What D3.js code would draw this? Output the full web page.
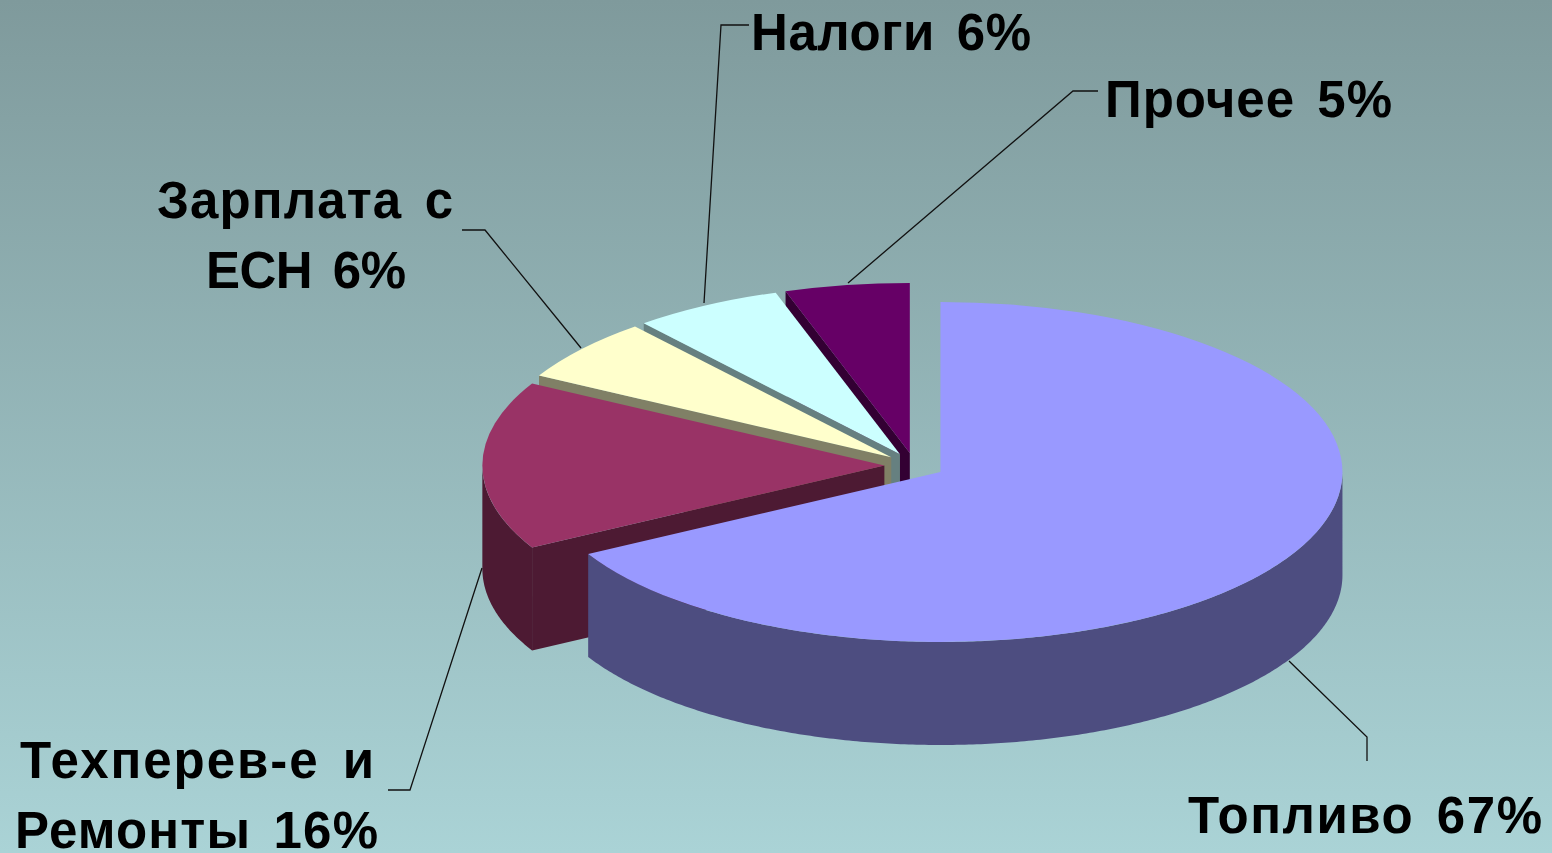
<!DOCTYPE html>
<html>
<head>
<meta charset="utf-8">
<script src="https://cdn.jsdelivr.net/npm/d3@7"></script>
<style>
html, body { margin: 0; padding: 0; overflow: hidden; }
</style>
</head>
<body>
<div id="my_dataviz"></div>
<script>
const categories = ['Топливо', 'Техперев-е и\nРемонты', 'Зарплата с\nЕСН', 'Налоги', 'Прочее'];
const shares = [67, 16, 6, 6, 5];
const topColors = ['#9999FF', '#993366', '#FFFFCC', '#CCFFFF', '#660066'];
const wallColors = ['#4D4D80', '#4D1A33', '#808066', '#668080', '#330033'];

const width = 1552;
const height = 853;
const cx = 914.5;
const cy = 465.5;
const rx = 402;
const ry = 170;
const depth = 103;
const explode = 0.075;

// label lines: left edge, right edge and baseline of each line, same order as categories
const labelBoxes = [
    [[1188, 1542, 833]],
    [[20, 374, 778], [15, 378, 848]],
    [[157, 453, 218], [206, 406, 288]],
    [[751, 1031, 50]],
    [[1105, 1392, 117]]
];
const leaderPoints = [
    [[1289, 661], [1367, 737], [1367, 761]],
    [[482, 568], [410, 790], [388, 790]],
    [[581, 348], [485, 230], [462, 230]],
    [[704, 303], [721, 25], [749, 25]],
    [[848, 283], [1073, 91], [1098, 91]]
];

const svg = d3.select('#my_dataviz')
    .append('svg')
        .attr('width', width)
        .attr('height', height)
        .style('display', 'block');

const bg = svg.append('defs').append('linearGradient')
    .attr('id', 'bg')
    .attr('x1', 0).attr('y1', 0)
    .attr('x2', 0).attr('y2', 1);
bg.append('stop').attr('offset', '0%').attr('stop-color', '#7F9A9C');
bg.append('stop').attr('offset', '100%').attr('stop-color', '#AAD3D6');

svg.append('rect')
    .attr('width', width)
    .attr('height', height)
    .attr('fill', 'url(#bg)');

const slices = d3.pie().sort(null).value(d => d)(shares);

const mid = d => (d.startAngle + d.endAngle) / 2;
const originX = d => cx + explode * rx * Math.sin(mid(d));
const originY = d => cy - explode * ry * Math.cos(mid(d));
const rimX = (d, a) => originX(d) + rx * Math.sin(a);
const rimY = (d, a) => originY(d) - ry * Math.cos(a);

const topArc = d3.arc().innerRadius(0).outerRadius(rx);
const wallLine = d3.line();

// front part of the rim, top edge forwards and bottom edge back
const rimWall = d => {
    const from = Math.max(d.startAngle, Math.PI / 2);
    const to = Math.min(d.endAngle, 3 * Math.PI / 2);
    if (from >= to) return null;
    const angles = d3.range(from, to, 0.01).concat(to);
    const upper = angles.map(a => [rimX(d, a), rimY(d, a)]);
    const lower = angles.slice().reverse().map(a => [rimX(d, a), rimY(d, a) + depth]);
    return wallLine(upper.concat(lower)) + 'Z';
};

// cut face along the start edge, only seen on the left half
const cutWall = d => {
    if (d.startAngle <= Math.PI) return null;
    const ox = originX(d), oy = originY(d);
    const ex = rimX(d, d.startAngle), ey = rimY(d, d.startAngle);
    return wallLine([[ox, oy], [ex, ey], [ex, ey + depth], [ox, oy + depth]]) + 'Z';
};

const pieG = svg.append('g');
const sliceG = pieG.selectAll('g')
    .data(slices.slice().reverse())
    .join('g');

sliceG.append('path')
    .attr('d', cutWall)
    .attr('fill', d => wallColors[d.index]);

sliceG.append('path')
    .attr('d', rimWall)
    .attr('fill', d => wallColors[d.index]);

sliceG.append('path')
    .attr('d', topArc)
    .attr('transform', d => `translate(${originX(d)},${originY(d)}) scale(1,${ry / rx})`)
    .attr('fill', d => topColors[d.index]);

svg.selectAll('.leader')
    .data(leaderPoints)
    .join('path')
    .attr('class', 'leader')
    .attr('d', d => wallLine(d))
    .attr('fill', 'none')
    .attr('stroke', '#111')
    .attr('stroke-width', 1.3);

categories.forEach((name, i) => {
    const lines = `${name} ${shares[i]}%`.split('\n');
    lines.forEach((line, j) => {
        const box = labelBoxes[i][j];
        svg.append('text')
            .attr('x', box[0])
            .attr('y', box[2])
            .attr('textLength', box[1] - box[0])
            .attr('lengthAdjust', 'spacing')
            .style('font', 'bold 51px "Liberation Sans", Arial, sans-serif')
            .style('word-spacing', '7px')
            .style('filter', 'blur(0.5px)')
            .attr('fill', '#000')
            .text(line);
    });
});
</script>
</body>
</html>
